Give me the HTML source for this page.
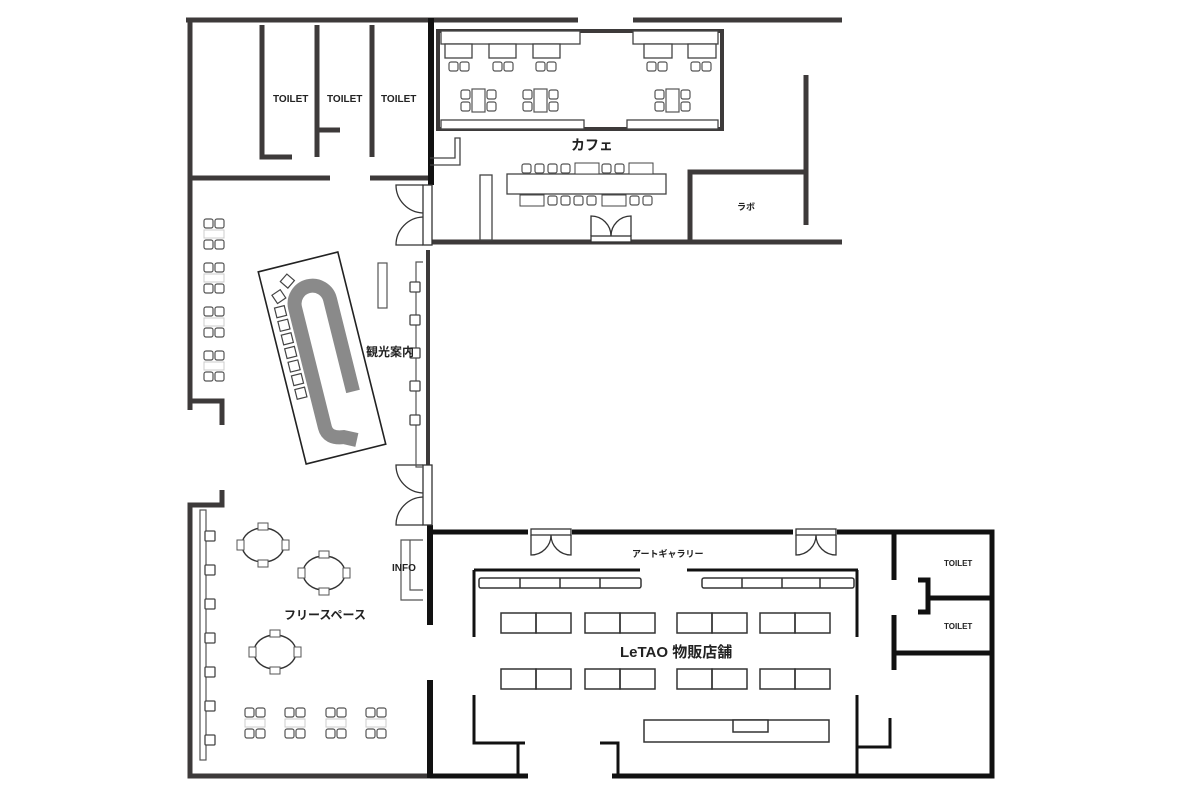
<!DOCTYPE html>
<html><head><meta charset="utf-8"><style>
html,body{margin:0;padding:0;background:#fff;width:1200px;height:800px;overflow:hidden}
svg{display:block}
text{font-family:"Liberation Sans","Noto Sans CJK JP",sans-serif;font-weight:bold;fill:#222}
</style></head><body>
<svg width="1200" height="800" viewBox="0 0 1200 800">
<defs>
<g id="ch"><rect x="0" y="0" width="9" height="9" rx="2" fill="#fff" stroke="#555" stroke-width="1.2"/></g>
<g id="ch2"><use href="#ch"/><use href="#ch" x="11"/></g>
<g id="sq"><rect x="-5" y="-5" width="10" height="10" rx="1" fill="#fff" stroke="#444" stroke-width="1.3"/></g>
<g id="rt"><ellipse cx="0" cy="0" rx="21" ry="17" fill="none" stroke="#333" stroke-width="1.4"/>
<rect x="-5" y="-22" width="10" height="7" fill="#fff" stroke="#555"/><rect x="-5" y="15" width="10" height="7" fill="#fff" stroke="#555"/>
<rect x="-26" y="-5" width="7" height="10" fill="#fff" stroke="#555"/><rect x="19" y="-5" width="7" height="10" fill="#fff" stroke="#555"/></g>
<g id="cp"><use href="#ch2"/><rect x="0" y="11" width="20" height="8" fill="none" stroke="#ccc"/><use href="#ch2" y="21"/></g>
<g id="mt"><use href="#ch" y="0"/><use href="#ch" y="12"/><rect x="11" y="-1" width="13" height="23" fill="#fff" stroke="#555" stroke-width="1.2"/><use href="#ch" x="26"/><use href="#ch" x="26" y="12"/></g>
<g id="sh"><rect x="0" y="0" width="35" height="20" fill="none" stroke="#333" stroke-width="1.5"/><rect x="35" y="0" width="35" height="20" fill="none" stroke="#333" stroke-width="1.5"/></g>
</defs>
<g stroke="#3d3a3a" stroke-width="5" fill="none" stroke-linecap="butt">
<path d="M186 20 H432"/>
<path d="M190 18 V410"/>
<path d="M262 25 V157 H292"/>
<path d="M317 25 V157 M317 130 H340"/>
<path d="M372 25 V157"/>
<path d="M190 178 H330 M370 178 H430"/>
<path d="M190 401 H222 V425"/>
<path d="M222 490 V505 H190 V776 H430"/>
<path d="M432 20 H578 M633 20 H842"/>
<path d="M430 242 H842"/>
<path d="M806 75 V225"/>
<path d="M690 242 V172 H806"/>
<path d="M428 250 V465" stroke-width="4"/>
</g>
<path d="M431 18 V185" stroke="#111" stroke-width="6"/>
<path d="M430 525 V625 M430 680 V778" stroke="#111" stroke-width="6"/>
<g stroke="#111" stroke-width="5" fill="none">
<path d="M430 532 H528 M572 532 H793 M837 532 H992 V776 H612"/>
<path d="M430 776 H528"/>
<path d="M894 534 V580 M894 615 V670 M894 653 H990"/>
<path d="M918 580 H928 V612 H918 M928 598 H990"/>
</g>
<g stroke="#111" stroke-width="3" fill="none">
<path d="M474 570 H640 M687 570 H858"/>
<path d="M474 570 V637 M474 695 V743 H525 M518 743 V776"/>
<path d="M600 743 H618 V776"/>
<path d="M857 570 V637 M857 695 V747 H890 V718"/>
<path d="M857 745 V776"/>
</g>
<g stroke="#333" stroke-width="1.5" fill="#fff">
<rect x="479" y="578" width="162" height="10" rx="2"/>
<path d="M520 578 V588 M560 578 V588 M600 578 V588"/>
<rect x="702" y="578" width="152" height="10" rx="2"/>
<path d="M742 578 V588 M782 578 V588 M820 578 V588"/>
<rect x="644" y="720" width="185" height="22"/>
<rect x="733" y="720" width="35" height="12"/>
</g>
<use href="#sh" x="501" y="613"/><use href="#sh" x="585" y="613"/><use href="#sh" x="677" y="613"/><use href="#sh" x="760" y="613"/>
<use href="#sh" x="501" y="669"/><use href="#sh" x="585" y="669"/><use href="#sh" x="677" y="669"/><use href="#sh" x="760" y="669"/>
<g stroke="#333" stroke-width="1.3" fill="#fff">
<rect x="531" y="529" width="40" height="6"/><path d="M531 535 V555 A20 20 0 0 0 551 535 M571 535 V555 A20 20 0 0 1 551 535" fill="none"/>
<rect x="796" y="529" width="40" height="6"/><path d="M796 535 V555 A20 20 0 0 0 816 535 M836 535 V555 A20 20 0 0 1 816 535" fill="none"/>
<rect x="591" y="236" width="40" height="6"/><path d="M591 236 V216 A20 20 0 0 1 611 236 M631 236 V216 A20 20 0 0 0 611 236" fill="none"/>
<rect x="423" y="185" width="9" height="60"/><path d="M423 185 H396 A28 28 0 0 0 423 213 M423 245 H396 A28 28 0 0 1 423 217" fill="none"/>
<rect x="423" y="465" width="9" height="60"/><path d="M423 465 H396 A28 28 0 0 0 423 493 M423 525 H396 A28 28 0 0 1 423 497" fill="none"/>
</g>
<rect x="438" y="31" width="284" height="98" fill="none" stroke="#3d3a3a" stroke-width="4"/>
<g stroke="#444" stroke-width="1.3" fill="#fff">
<rect x="441" y="31" width="139" height="13"/><rect x="633" y="31" width="85" height="13"/>
<rect x="441" y="120" width="143" height="9"/><rect x="627" y="120" width="91" height="9"/>
<rect x="445" y="44" width="27" height="14"/><rect x="489" y="44" width="27" height="14"/><rect x="533" y="44" width="27" height="14"/><rect x="644" y="44" width="28" height="14"/><rect x="688" y="44" width="28" height="14"/>
<path d="M430 165 H460 V138 H455 V158 H430" fill="none"/>
<rect x="480" y="175" width="12" height="65"/>
<rect x="507" y="174" width="159" height="20"/>
</g>
<use href="#ch2" x="449" y="62"/><use href="#ch2" x="493" y="62"/><use href="#ch2" x="536" y="62"/><use href="#ch2" x="647" y="62"/><use href="#ch2" x="691" y="62"/>
<use href="#mt" x="461" y="90"/><use href="#mt" x="523" y="90"/><use href="#mt" x="655" y="90"/>
<g><use href="#ch" x="522" y="164"/><use href="#ch" x="535" y="164"/><use href="#ch" x="548" y="164"/><use href="#ch" x="561" y="164"/>
<rect x="575" y="163" width="24" height="11" fill="#fff" stroke="#444"/><use href="#ch" x="602" y="164"/><use href="#ch" x="615" y="164"/><rect x="629" y="163" width="24" height="11" fill="#fff" stroke="#444"/>
<rect x="520" y="195" width="24" height="11" fill="#fff" stroke="#444"/><use href="#ch" x="548" y="196"/><use href="#ch" x="561" y="196"/><use href="#ch" x="574" y="196"/><use href="#ch" x="587" y="196"/>
<rect x="602" y="195" width="24" height="11" fill="#fff" stroke="#444"/><use href="#ch" x="630" y="196"/><use href="#ch" x="643" y="196"/></g>
<use href="#cp" x="204" y="219"/><use href="#cp" x="204" y="263"/><use href="#cp" x="204" y="307"/><use href="#cp" x="204" y="351"/>
<g transform="translate(322,358) rotate(-14)">
<rect x="-41" y="-99" width="82" height="198" fill="#fff" stroke="#222" stroke-width="1.6"/>
<path d="M22 40 V-55 A18 18 0 0 0 -14 -55 V68 Q-14 80 2 82 L14 88" fill="none" stroke="#8a8a8a" stroke-width="14"/>
<g fill="#fff" stroke="#444" stroke-width="1.2">
<rect x="-34" y="-60" width="10" height="10"/><rect x="-34" y="-46" width="10" height="10"/><rect x="-34" y="-32" width="10" height="10"/><rect x="-34" y="-18" width="10" height="10"/><rect x="-34" y="-4" width="10" height="10"/><rect x="-34" y="10" width="10" height="10"/><rect x="-34" y="24" width="10" height="10"/>
<rect x="-32" y="-75" width="10" height="10" transform="rotate(-20 -27 -70)"/><rect x="-20" y="-88" width="10" height="10" transform="rotate(-35 -15 -83)"/>
</g></g>
<g stroke="#555" stroke-width="1.2" fill="#fff">
<rect x="378" y="263" width="9" height="45"/>
<path d="M423 262 H416 V467 H423" fill="none"/>
<path d="M423 540 H401 V600 H423 M410 540 V590 H423" fill="none"/>
<rect x="200" y="510" width="6" height="250"/>
</g>
<use href="#sq" x="415" y="287"/><use href="#sq" x="415" y="320"/><use href="#sq" x="415" y="353"/><use href="#sq" x="415" y="386"/><use href="#sq" x="415" y="420"/>
<use href="#sq" x="210" y="536"/><use href="#sq" x="210" y="570"/><use href="#sq" x="210" y="604"/><use href="#sq" x="210" y="638"/><use href="#sq" x="210" y="672"/><use href="#sq" x="210" y="706"/><use href="#sq" x="210" y="740"/>
<use href="#rt" x="263" y="545"/><use href="#rt" x="324" y="573"/><use href="#rt" x="275" y="652"/>
<use href="#cp" x="245" y="708"/><use href="#cp" x="285" y="708"/><use href="#cp" x="326" y="708"/><use href="#cp" x="366" y="708"/>
<text x="273" y="102" font-size="10">TOILET</text>
<text x="327" y="102" font-size="10">TOILET</text>
<text x="381" y="102" font-size="10">TOILET</text>
<text x="571" y="150" font-size="14">カフェ</text>
<text x="737" y="210" font-size="9">ラボ</text>
<text x="366" y="356" font-size="12">観光案内</text>
<text x="392" y="571" font-size="10">INFO</text>
<text x="284" y="619" font-size="12">フリースペース</text>
<text x="632" y="557" font-size="9">アートギャラリー</text>
<text x="620" y="657" font-size="15">LeTAO 物販店舗</text>
<text x="944" y="566" font-size="8">TOILET</text>
<text x="944" y="629" font-size="8">TOILET</text>
</svg>
</body></html>
